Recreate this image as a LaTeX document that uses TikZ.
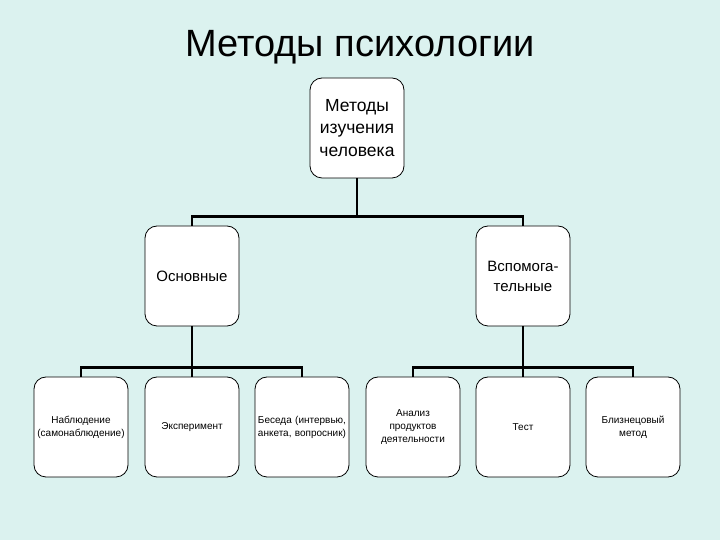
\documentclass[tikz,border=0pt]{standalone}
\usepackage{fontspec}
\setmainfont{Liberation Sans}
\definecolor{bgcyan}{RGB}{219,242,239}
\tikzset{
  methodbox/.style={draw, fill=white, line width=0.8pt, rounded corners=12pt,
    minimum width=94pt, minimum height=100pt, text width=92pt, inner sep=1pt, align=center},
  bigtext/.style={font=\fontsize{17.5}{22.5}\selectfont},
  midtext/.style={font=\fontsize{15}{20}\selectfont},
  smalltext/.style={font=\fontsize{10}{13}\selectfont},
  bar/.style={line width=2.6pt}
}
\begin{document}
\begin{tikzpicture}[x=1pt, y=1pt]
        \fill[bgcyan] (0,0) rectangle (720,540);
        \useasboundingbox (0,0) rectangle (720,540);

        \node[anchor=base, font=\fontsize{38}{42}\selectfont] (title) at (360,483) {Методы психологии};

        \node[methodbox, bigtext] (human) at (357,412) {Методы\\изучения\\человека};

        \node[methodbox, midtext] (basic) at (192,264) {Основные};
        \node[methodbox, midtext] (aux) at (523,264) {Вспомога-\\тельные};

        \node[methodbox, smalltext] (observ) at (81,113) {Наблюдение\\(самонаблюдение)};
        \node[methodbox, smalltext] (exper) at (192,113) {Эксперимент};
        \node[methodbox, smalltext] (talk) at (302,113) {Беседа (интервью,\\анкета, вопросник)};
        \node[methodbox, smalltext] (products) at (413,113) {Анализ\\продуктов\\деятельности};
        \node[methodbox, smalltext] (test) at (523,113) {Тест};
        \node[methodbox, smalltext] (twins) at (633,113) {Близнецовый\\метод};

        % tree connectors
        \foreach \to in {basic, aux}
          \draw[bar] (human.south) -- ++(0,-38) -| (\to.north);
        \foreach \to in {observ, exper, talk}
          \draw[bar] (basic.south) -- ++(0,-41) -| (\to.north);
        \foreach \to in {products, test, twins}
          \draw[bar] (aux.south) -- ++(0,-41) -| (\to.north);

\end{tikzpicture}
\end{document}
